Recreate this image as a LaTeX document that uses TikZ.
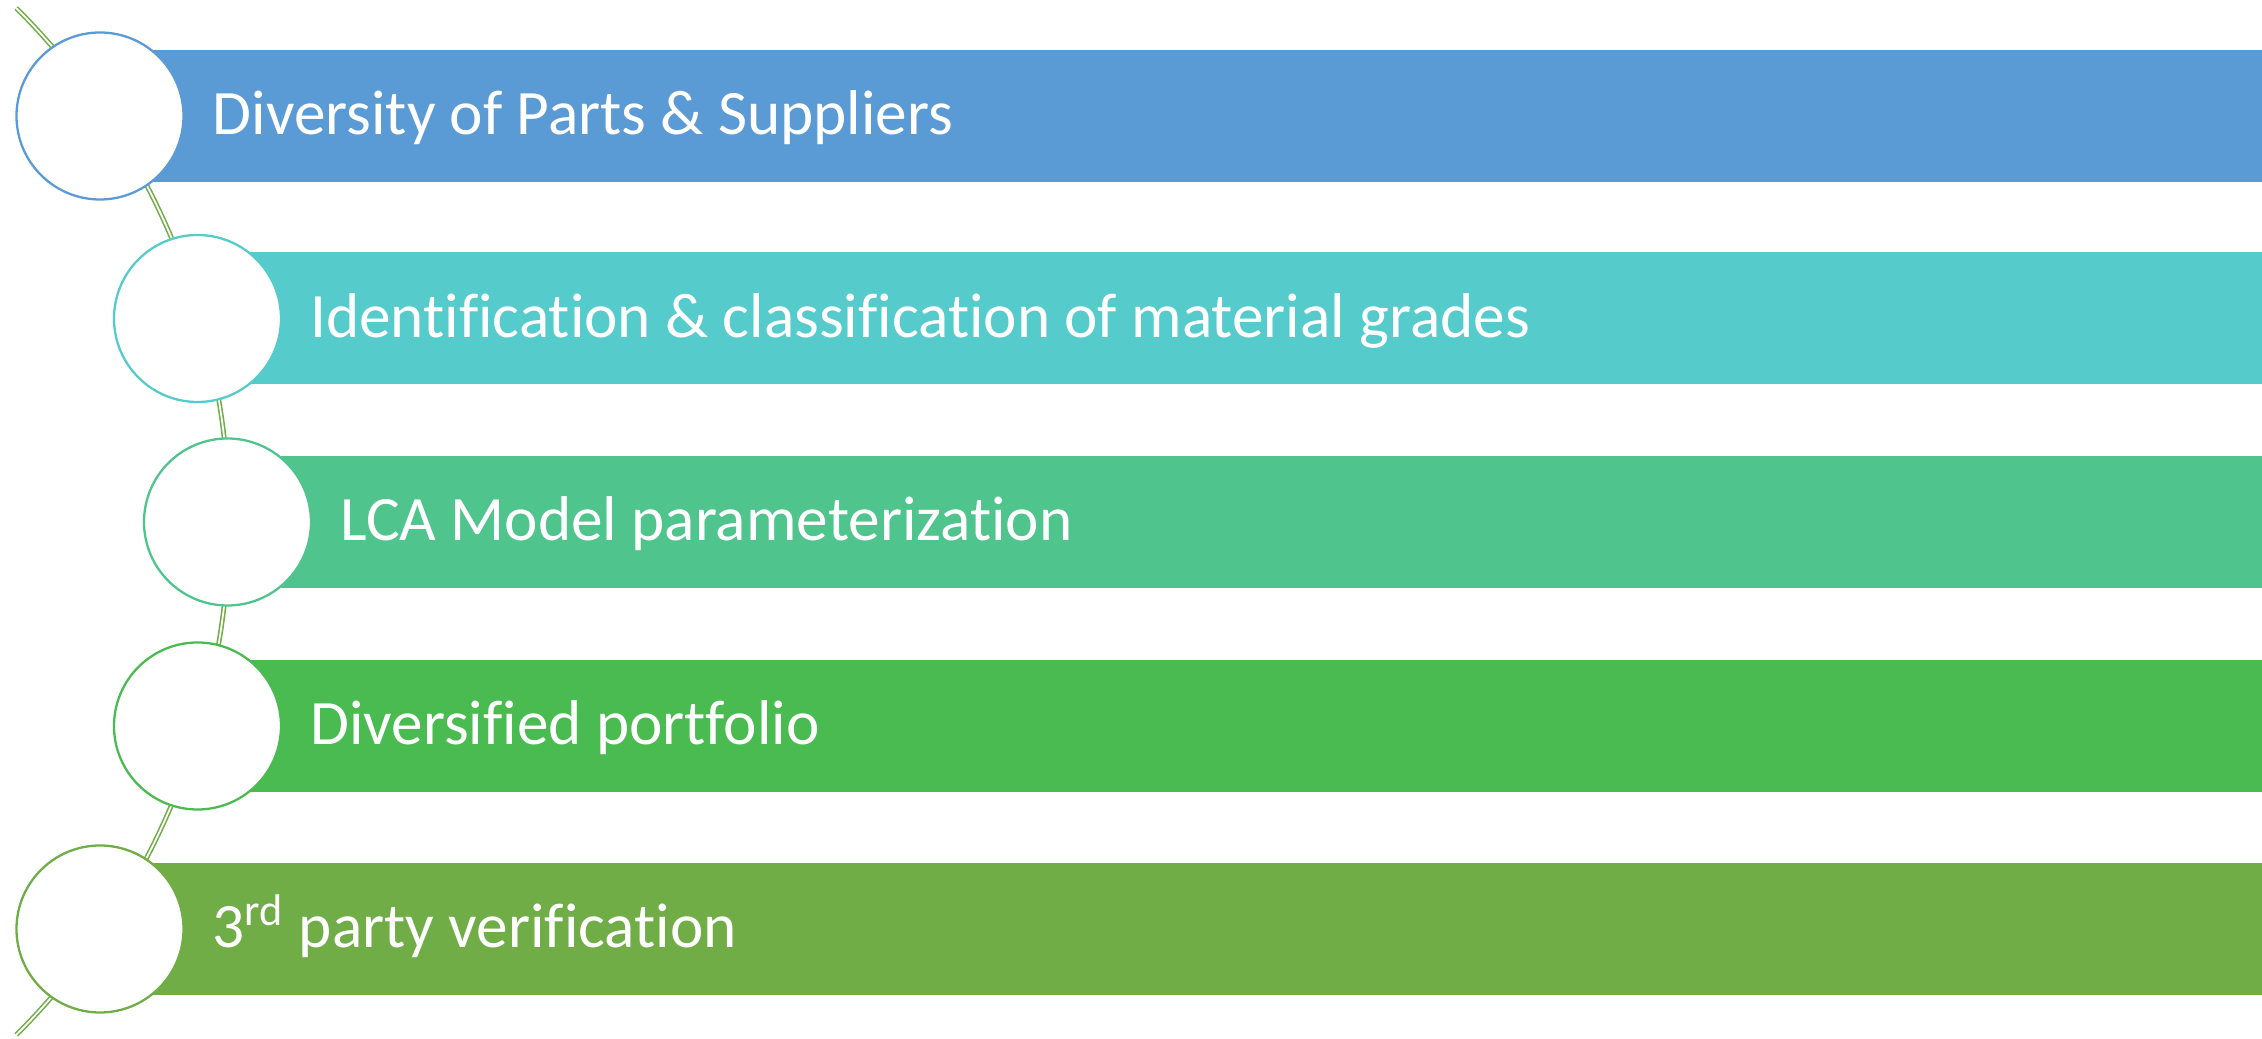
\documentclass[tikz,border=0pt]{standalone}
\usepackage{fontspec}
\setmainfont[Ligatures=NoCommon]{Carlito}

\definecolor{barblue}{HTML}{5B9BD5}
\definecolor{barteal}{HTML}{56CBCC}
\definecolor{barmint}{HTML}{4FC48D}
\definecolor{bargreen}{HTML}{4ABB50}
\definecolor{barolive}{HTML}{70AD47}
\definecolor{spinegreen}{HTML}{70AD47}

\begin{document}
\begin{tikzpicture}[
    dot/.style={circle, draw, fill=white, line width=0.65pt, minimum size=1.67cm, inner sep=0pt},
    bartext/.style={anchor=base west, inner sep=0pt, text=white, font=\fontsize{18}{22}\selectfont}
]
    \useasboundingbox (0,0) rectangle (22.62,10.39);

    % Curved spine behind the circles
    \draw[draw=spinegreen, double=white, double distance=0.5pt, line width=0.45pt]
        (-4.97,5.175) ++(45:7.26) arc (45:-45:7.26);

    % Bars
    \fill[barblue]   (1.00,8.57)  rectangle (22.62,9.89);
    \fill[barteal]   (1.975,6.545) rectangle (22.62,7.865);
    \fill[barmint]   (2.275,4.51) rectangle (22.62,5.83);
    \fill[bargreen]  (1.975,2.47) rectangle (22.62,3.79);
    \fill[barolive]  (1.00,0.44)  rectangle (22.62,1.76);

    % Circles on the spine
    \node[dot, draw=barblue]  (c1) at (1.00,9.23) {};
    \node[dot, draw=barteal]  (c2) at (1.975,7.205) {};
    \node[dot, draw=barmint]  (c3) at (2.275,5.17) {};
    \node[dot, draw=bargreen] (c4) at (1.975,3.13) {};
    \node[dot, draw=barolive] (c5) at (1.00,1.10) {};

    % Bar texts
    \node[bartext] (t1) at (2.12,9.04)  {Diversity of Parts \& Suppliers};
    \node[bartext] (t2) at (3.095,7.015) {Identification \& classification of material grades};
    \node[bartext] (t3) at (3.395,4.98) {LCA Model parameterization};
    \node[bartext] (t4) at (3.095,2.94) {Diversified portfolio};
    \node[bartext] (t5) at (2.12,0.91)  {3\textsuperscript{rd} party verification};

\end{tikzpicture}
\end{document}
